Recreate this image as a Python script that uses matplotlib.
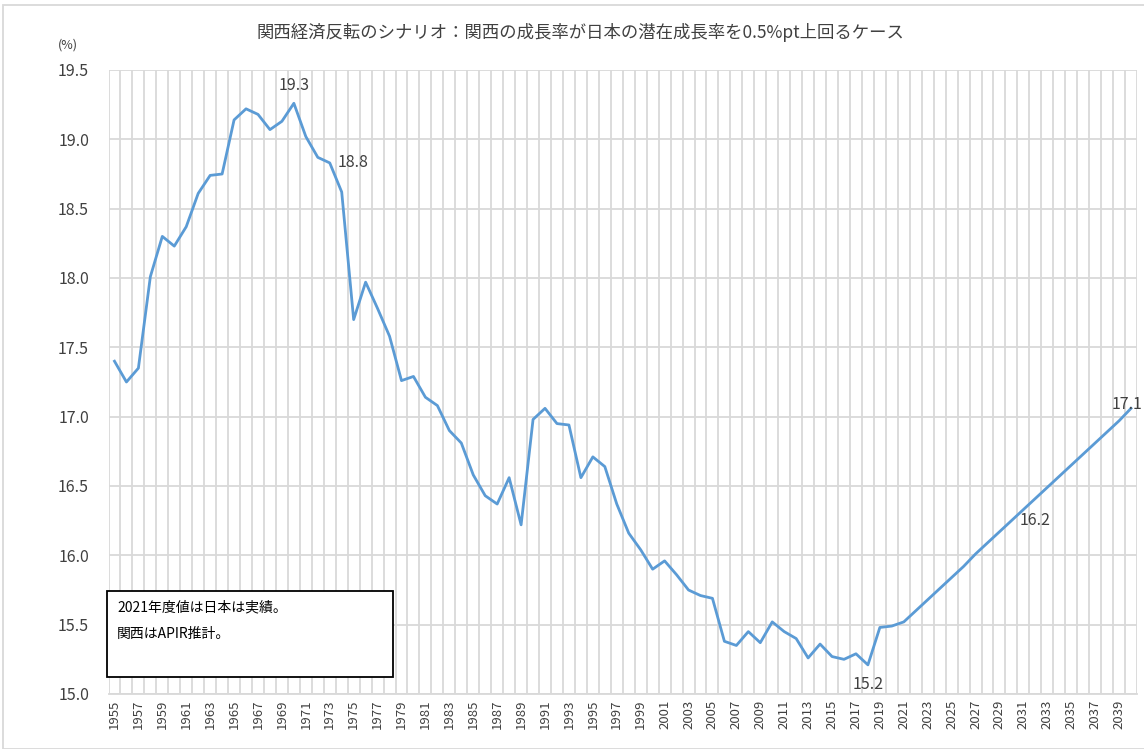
import matplotlib
matplotlib.use("Agg")
import matplotlib.pyplot as plt
import numpy as np

plt.rcParams['font.family'] = ['Noto Sans CJK JP', 'DejaVu Sans']

years = list(range(1955, 2041))
share = [17.40, 17.25, 17.35, 18.01, 18.30, 18.23, 18.37, 18.61, 18.74, 18.75,
         19.14, 19.22, 19.18, 19.07, 19.13, 19.26, 19.02, 18.87, 18.83, 18.62,
         17.70, 17.97, 17.78, 17.58, 17.26, 17.29, 17.14, 17.08, 16.90, 16.81,
         16.58, 16.43, 16.37, 16.56, 16.22, 16.98, 17.06, 16.95, 16.94, 16.56,
         16.71, 16.64, 16.37, 16.16, 16.04, 15.90, 15.96, 15.86, 15.75, 15.71,
         15.69, 15.38, 15.35, 15.45, 15.37, 15.52, 15.45, 15.40, 15.26, 15.36,
         15.27, 15.25, 15.29, 15.21, 15.48, 15.49, 15.52, 15.60, 15.68, 15.76,
         15.84, 15.92, 16.01, 16.09, 16.17, 16.25, 16.33, 16.41, 16.49, 16.57,
         16.65, 16.73, 16.81, 16.89, 16.97, 17.06]

# data labels: year -> (text, offset in points, ha, va)
labels = {1970: ("19.3", (0, 7), 'center', 'bottom'),
          1973: ("18.8", (6, 0), 'left', 'center'),
          2018: ("15.2", (0, -8), 'center', 'top'),
          2030: ("16.2", (6, 0), 'left', 'center'),
          2040: ("17.1", (-14, 3), 'left', 'center')}

title = "関西経済反転のシナリオ：関西の成長率が日本の潜在成長率を0.5%pt上回るケース"
note = ["2021年度値は日本は実績。", "関西はAPIR推計。"]

fig = plt.figure(figsize=(11.44, 7.49), dpi=100)
W, H = 1144, 749
ax = fig.add_axes([108.5 / W, 1 - 694 / H, (1137 - 108.5) / W, (694 - 70) / H])

x = np.arange(len(years))
grid_c = '#d9d9d9'
for b in np.arange(-0.5, len(years) + 0.5, 1):
    ax.axvline(b, color=grid_c, lw=1.3, zorder=0)
ax.set_yticks(np.arange(15.0, 19.51, 0.5))
ax.yaxis.grid(True, color=grid_c, lw=1.3, zorder=0)

ax.plot(x, share, color='#5b9bd5', lw=2.0, zorder=3)

for yr, (txt, off, ha, va) in labels.items():
    i = years.index(yr)
    ax.annotate(txt, (i, share[i]), xytext=off, textcoords='offset points',
                ha=ha, va=va, fontsize=11.5, color='#404040',
                annotation_clip=False)

ax.set_xlim(-0.5, len(years) - 0.5)
ax.set_ylim(15.0, 19.5)
ax.set_xticks(x[::2])
ax.set_xticklabels([str(y) for y in years[::2]], rotation=90, fontsize=9.5,
                   color='#404040')
ax.set_yticklabels([f"{v:.1f}" for v in np.arange(15.0, 19.51, 0.5)],
                   fontsize=11.5, color='#404040')
ax.tick_params(axis='y', length=0, pad=14)
ax.tick_params(axis='x', length=0, pad=4)
for s in ['top', 'right', 'left']:
    ax.spines[s].set_visible(False)
ax.spines['bottom'].set_color(grid_c)
ax.spines['bottom'].set_linewidth(1.3)

fig.text(580 / W, 1 - 32 / H, title, ha='center', va='center', fontsize=12.5,
         color='#404040')
fig.text(68 / W, 1 - 45 / H, "(%)", ha='center', va='center', fontsize=9,
         color='#404040')

# note box
box = plt.Rectangle((107 / W, 1 - 677 / H), (393 - 107) / W, (677 - 591) / H,
                    transform=fig.transFigure, facecolor='white',
                    edgecolor='black', lw=1.3, zorder=5)
fig.patches.append(box)
fig.text(117 / W, 1 - 607 / H, note[0], ha='left', va='center', fontsize=10,
         color='black', zorder=6)
fig.text(117 / W, 1 - 634 / H, note[1], ha='left', va='center', fontsize=10,
         color='black', zorder=6)

# outer chart border
frame = plt.Rectangle((3 / W, 0), 1.2, 1 - 5 / H, transform=fig.transFigure,
                      fill=False, edgecolor='#d9d9d9', lw=1.3)
fig.patches.append(frame)

fig.savefig("out.png", dpi=100)
